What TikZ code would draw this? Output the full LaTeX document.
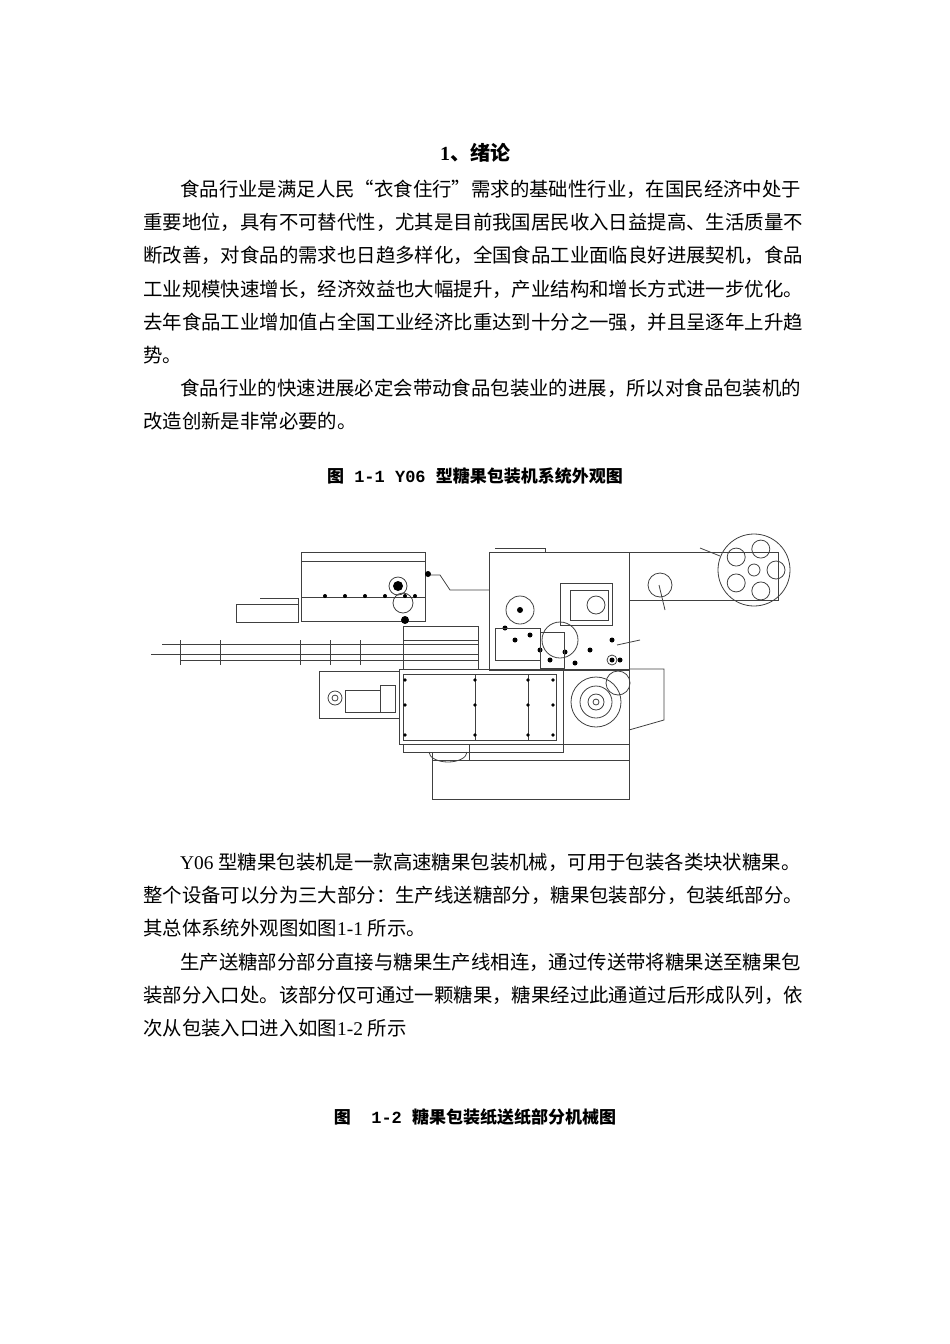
\documentclass[tikz,border=0pt]{standalone}
\usepackage{fontspec}
\setmainfont{Noto Sans CJK SC}
\newfontfamily\latf{Liberation Serif}
\newfontfamily\monof{Liberation Mono}
\begin{document}
\begin{tikzpicture}[x=1pt,y=-1pt,
  txt/.style={anchor=base west,inner sep=0pt,font=\fontsize{19.4}{20}\selectfont},
  captxt/.style={anchor=base,inner sep=0pt,font=\fontsize{17}{20}\selectfont\bfseries},
  m/.style={draw=black!75,line width=0.8pt}]
\useasboundingbox (0,0) rectangle (950,1344);
\node[anchor=base,inner sep=0pt,font=\fontsize{20}{22}\selectfont\bfseries] (title) at (475,160) {\latf 1\normalfont\bfseries、绪论};
\node[txt] (l1) at (180,196) {食品行业是满足人民“衣食住行”需求的基础性行业，在国民经济中处于};
\node[txt] (l2) at (143,229) {重要地位，具有不可替代性，尤其是目前我国居民收入日益提高、生活质量不};
\node[txt] (l3) at (143,262) {断改善，对食品的需求也日趋多样化，全国食品工业面临良好进展契机，食品};
\node[txt] (l4) at (143,296) {工业规模快速增长，经济效益也大幅提升，产业结构和增长方式进一步优化。};
\node[txt] (l5) at (143,329) {去年食品工业增加值占全国工业经济比重达到十分之一强，并且呈逐年上升趋};
\node[txt] (l6) at (143,362) {势。};
\node[txt] (l7) at (180,395) {食品行业的快速进展必定会带动食品包装业的进展，所以对食品包装机的};
\node[txt] (l8) at (143,428) {改造创新是非常必要的。};
\node[captxt] (c1) at (475,482) {图{\monof\bfseries{} 1-1 Y06 }型糖果包装机系统外观图};
\node[txt] (m1) at (180,869) {{\latf Y06 }型糖果包装机是一款高速糖果包装机械，可用于包装各类块状糖果。};
\node[txt] (m2) at (143,902) {整个设备可以分为三大部分：生产线送糖部分，糖果包装部分，包装纸部分。};
\node[txt] (m3) at (143,935) {其总体系统外观图如图{\latf 1-1 }所示。};
\node[txt] (m4) at (180,969) {生产送糖部分部分直接与糖果生产线相连，通过传送带将糖果送至糖果包};
\node[txt] (m5) at (143,1002) {装部分入口处。该部分仅可通过一颗糖果，糖果经过此通道过后形成队列，依};
\node[txt] (m6) at (143,1035) {次从包装入口进入如图{\latf 1-2 }所示};
\node[captxt] (c2) at (475,1123) {图{\monof\bfseries~ 1-2 }糖果包装纸送纸部分机械图};
% machine
\draw[m] (301,552) rectangle (425,621);
\draw[m] (301,561) -- (425,561);
\draw[m] (301,597) -- (425,597);
\draw[m] (425,575) -- (440,575) -- (450,590) -- (489,590);
\draw[m] (236,604) rectangle (298,622);
\draw[m] (260,598) -- (298,598) -- (298,604);
\draw[m] (489,552) rectangle (629,670);
\draw[m] (495,548) -- (545,548) -- (545,552);
\draw[m] (629,552) rectangle (778,600);
\draw[m] (560,583) rectangle (612,625);
\draw[m] (570,590) rectangle (608,620);
\draw[m] (596,605) circle (9);
\draw[m] (754,570) circle (36);
\draw[m] (754,570) circle (6);
\foreach \a in {0,72,144,216,288} \draw[m] (754,570)++(\a:22) circle (9);
\draw[m] (700,548) -- (720,556);
\draw[m] (660,585) circle (12);
\draw[m] (659,585) -- (665,610);
% rails
\draw[m] (162,644) -- (478,644);
\draw[m] (151,654) -- (478,654);
\draw[m] (180,660) -- (478,660);
\foreach \x in {180,220,300,330,360} \draw[m] (\x,640) -- (\x,665);
\draw[m] (403,626) rectangle (478,669);
\draw[m] (403,640) -- (478,640);
% center mechanism
\draw[m] (520,610) circle (14); \fill (520,610) circle (3);
\draw[m] (560,640) circle (18);
\foreach \p in {(530,635),(540,650),(550,660),(515,640),(505,628),(565,652),(590,650),(612,640),(620,660),(575,663)}
  \fill \p circle (2.5);
\draw[m] (495,628) rectangle (540,660);
\draw[m] (540,632) rectangle (564,668);
\fill (398,586) circle (5); \fill (428,574) circle (3); \fill (405,620) circle (4);
\draw[m] (398,586) circle (9); \draw[m] (403,603) circle (10);
\foreach \x in {325,345,365,385,405,415} \fill (\x,596) circle (2);
% main body
\draw[m] (399,669) rectangle (563,744);
\draw[m] (403,674) rectangle (556,740);
\draw[m] (475,674) -- (475,740); \draw[m] (528,674) -- (528,740);
\foreach \x in {405,475,528,553} \foreach \y in {680,705,735} \fill (\x,\y) circle (1.8);
\draw[m] (319,671) rectangle (399,718);
\draw[m] (335,698) circle (7); \draw[m] (335,698) circle (3);
\draw[m] (345,690) rectangle (380,712);
\draw[m] (380,685) rectangle (395,712);
% right lower
\draw[m] (563,669) rectangle (629,744);
\draw[m] (629,669) -- (664,669) -- (664,720) -- (629,730);
\draw[m] (596,702) circle (25); \draw[m] (596,702) circle (16); \draw[m] (596,702) circle (8); \draw[m] (596,702) circle (3);
\draw[m] (618,683) circle (12);
\draw[m] (612,660) circle (5); \fill (612,660) circle (2.5);
\draw[m] (617,645) -- (640,640);
% base
\draw[m] (403,744) rectangle (563,752);
\draw[m] (429,752) arc (180:0:19 and 10);
\draw[m] (469,744) rectangle (629,760);
\draw[m] (432,760) rectangle (629,799);
\draw[m] (432,752) -- (432,760);
\end{tikzpicture}
\end{document}
